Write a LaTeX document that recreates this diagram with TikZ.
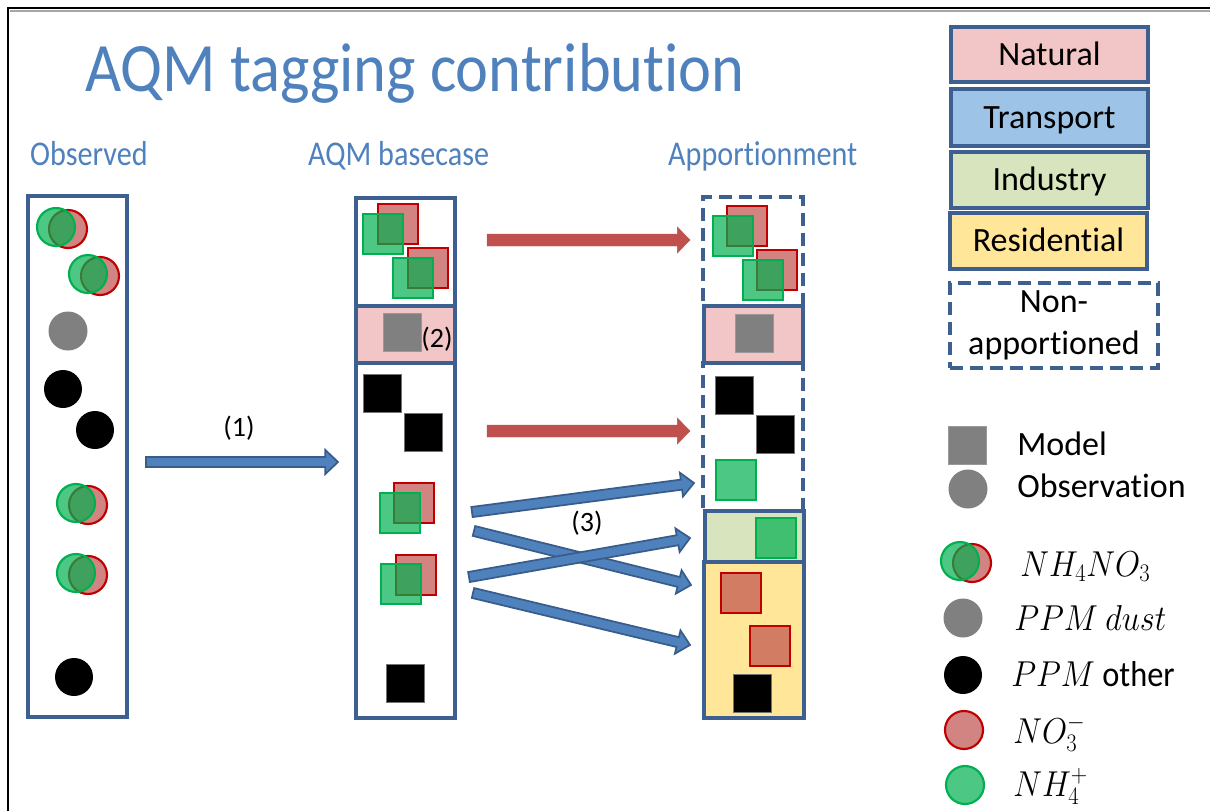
\RequirePackage{fix-cm}
\documentclass[tikz,border=0pt]{standalone}
\usepackage[no-math]{fontspec}
\setmainfont{Carlito}[Ligatures=NoCommon]
\usetikzlibrary{calc}
\definecolor{titleblue}{RGB}{79,129,189}
\definecolor{boxblue}{RGB}{62,96,145}
\definecolor{natural}{RGB}{242,198,198}
\definecolor{transport}{RGB}{157,195,230}
\definecolor{industry}{RGB}{215,228,189}
\definecolor{residential}{RGB}{255,230,153}
\definecolor{arrowred}{RGB}{192,80,77}
\definecolor{arrowblue}{RGB}{79,129,189}
\definecolor{arrowblueline}{RGB}{56,93,138}
\definecolor{greenc}{RGB}{0,176,80}
\definecolor{redfill}{RGB}{192,80,77}
\definecolor{redline}{RGB}{192,0,0}
\definecolor{dustgray}{RGB}{128,128,128}
\tikzset{
  colbox/.style={draw=boxblue, line width=2.8pt, inner sep=0pt, outer sep=0pt},
  dashbox/.style={colbox, dash pattern=on 10pt off 5pt},
  legbox/.style={colbox, font=\fontsize{25.5}{31.5}\selectfont, align=center},
  onelinebox/.style={legbox, text height=16.4pt, text depth=0pt},
  heading/.style={text=titleblue, font=\fontsize{26}{30}\selectfont, xscale=0.87, anchor=base west, inner sep=0pt},
  titlesty/.style={text=titleblue, font=\fontsize{52}{60}\selectfont, xscale=0.9, anchor=base west, inner sep=0pt},
  steplabel/.style={font=\fontsize{21}{25}\selectfont, inner sep=0pt},
  legtext/.style={font=\fontsize{25.5}{30}\selectfont, anchor=base west, inner sep=0pt},
  legmath/.style={font=\fontsize{27}{32}\selectfont, xscale=0.9, anchor=base west, inner sep=0pt},
  redp/.style={fill=redfill, fill opacity=0.7, draw=redline, line width=1.6pt},
  greenp/.style={fill=greenc, fill opacity=0.7, draw=greenc, line width=1.6pt},
  blackp/.style={fill=black, draw=black!55, line width=0.4pt},
  grayp/.style={fill=dustgray, draw=dustgray!80, line width=0.4pt},
  redarrowsty/.style={fill=arrowred, draw=arrowred, line width=0.3pt, line join=miter},
  bluearrowsty/.style={fill=arrowblue, draw=arrowblueline, line width=1.3pt, line join=miter},
}
\newcommand\boxnode[7]{\node[#6, minimum width={(#4-#2)*0.75pt}, minimum height={(#5-#3)*0.75pt}] (#1) at ({(#2+#4)/2},{(#3+#5)/2}) {#7};}
\newcommand\blockarrow[6]{%
  \coordinate (ba-c) at ($(#3)!#6!(#2)$);
  \draw[#1] ($(#2)!#4!90:(#3)$) -- ($(ba-c)!#4!-90:(#2)$) -- ($(ba-c)!#5!-90:(#2)$) -- (#3)
     -- ($(ba-c)!#5!90:(#2)$) -- ($(ba-c)!#4!90:(#2)$) -- ($(#2)!#4!-90:(#3)$) -- cycle;}
\newcommand\redarrow[2]{\blockarrow{redarrowsty}{#1}{#2}{4.5pt}{9.8pt}{9.5pt}}
\newcommand\bluearrow[2]{\blockarrow{bluearrowsty}{#1}{#2}{3.8pt}{9pt}{9.5pt}}
\newcommand\ammon[2]{\draw[redp] ({#1+12},{#2+2}) circle[radius=19]; \draw[greenp] (#1,#2) circle[radius=19];}
\newcommand\rcirc[2]{\draw[redp] (#1,#2) circle[radius=19];}
\newcommand\gcirc[2]{\draw[greenp] (#1,#2) circle[radius=19];}
\newcommand\bcirc[2]{\fill[black] (#1,#2) circle[radius=19];}
\newcommand\dcirc[2]{\fill[dustgray] (#1,#2) circle[radius=19.5];}
\newcommand\rsq[2]{\draw[redp] (#1,#2) rectangle ++(40,40);}
\newcommand\gsq[2]{\draw[greenp] (#1,#2) rectangle ++(40,40);}
\newcommand\bsq[2]{\draw[blackp] (#1,#2) rectangle ++(38,38);}
\newcommand\dsq[2]{\draw[grayp] (#1,#2) rectangle ++(38,38);}
\begin{document}
\begin{tikzpicture}[x=0.75pt, y=-0.75pt]
\useasboundingbox (0,0) rectangle (1210,811);
\fill[white] (0,0) rectangle (1210,811);
% frame
\draw[black!35, line width=1pt] (10,11) -- (1210,11);
\draw[black, line width=1.5pt] (8,811) -- (8,8) -- (1210,8);

% title and headings
\node[titlesty] (title) at (85,91) {AQM tagging contribution};
\node[heading] (hobs) at (30,165) {Observed};
\node[heading] (hbase) at (308,165) {AQM basecase};
\node[heading] (happ) at (668,165) {Apportionment};

% ---------- Observed column ----------
\boxnode{obs}{28}{196}{127}{717}{colbox, fill=white}{}
\ammon{56}{227}
\ammon{88}{274}
\dcirc{68}{331}
\bcirc{63}{389}
\bcirc{95}{430}
\ammon{76}{503}
\ammon{76}{573}
\bcirc{74}{677}

% ---------- AQM basecase column ----------
\boxnode{base}{356}{198}{455}{718}{colbox, fill=white}{}
\boxnode{basenat}{356}{306}{455}{363}{colbox, fill=natural}{}
\rsq{378}{204} \gsq{363}{214}
\rsq{408}{248} \gsq{393}{258}
\dsq{383}{313}
\node[steplabel] (lab2) at (437,339) {(2)};
\bsq{363}{374}
\bsq{404}{413}
\rsq{394}{483} \gsq{380}{493}
\rsq{396}{555} \gsq{381}{564}
\bsq{386}{664}

% ---------- Apportionment column ----------
\boxnode{appnon1}{703}{197}{803}{306}{dashbox}{}
\boxnode{appnon2}{703}{363}{803}{511}{dashbox}{}
\boxnode{appnat}{704}{306}{803}{363}{colbox, fill=natural}{}
\boxnode{appind}{705}{511}{804}{562}{colbox, fill=industry}{}
\boxnode{appres}{704}{562}{804}{718}{colbox, fill=residential}{}
\rsq{727}{206} \gsq{713}{216}
\rsq{757}{250} \gsq{743}{260}
\dsq{735}{314}
\bsq{715}{376}
\bsq{756}{415}
\gsq{716}{460}
\gsq{756}{518}
\rsq{721}{573}
\rsq{750}{626}
\bsq{733}{674}

% ---------- arrows ----------
\coordinate (a1s) at (146,462); \coordinate (a1e) at (338,462);
\coordinate (r1s) at (487,240); \coordinate (r1e) at (690,240);
\coordinate (r2s) at (487,431); \coordinate (r2e) at (690,431);
\coordinate (b3as) at (472,512); \coordinate (b3ae) at (694,483);
\coordinate (b3bs) at (474,531); \coordinate (b3be) at (691,585);
\coordinate (b3cs) at (469,577); \coordinate (b3ce) at (690,538);
\coordinate (b3ds) at (473,593); \coordinate (b3de) at (690,645);
\bluearrow{a1s}{a1e}
\node[steplabel] (lab1) at (239,428) {(1)};
\redarrow{r1s}{r1e}
\redarrow{r2s}{r2e}
\bluearrow{b3as}{b3ae}
\bluearrow{b3bs}{b3be}
\bluearrow{b3cs}{b3ce}
\bluearrow{b3ds}{b3de}
\node[steplabel] (lab3) at (587,523) {(3)};

% ---------- legend ----------
\boxnode{lnat}{951}{27}{1148}{82}{onelinebox, fill=natural}{Natural}
\boxnode{ltra}{951}{89}{1148}{146}{onelinebox, fill=transport}{Transport}
\boxnode{lind}{951}{152}{1148}{208}{onelinebox, fill=industry}{Industry}
\boxnode{lres}{950}{213}{1147}{269}{onelinebox, fill=residential}{Residential}
\boxnode{lnon}{950}{283}{1158}{368}{legbox, dash pattern=on 10pt off 5pt}{Non-\\apportioned}

\dsq{948}{426}
\node[legtext] (lmodel) at (1017,455) {Model};
\dcirc{968}{489}
\node[legtext] (lobs) at (1017,497) {Observation};
\ammon{960}{561}
\node[legmath] (lnh4no3) at (1020,576) {$NH_4NO_3$};
\dcirc{963}{618}
\node[legmath] (ldust) at (1014,630) {$PPM\ dust$};
\bcirc{963}{675}
\node[legmath] (lother) at (1011,686) {$PPM$ other};
\rcirc{964}{730}
\node[legmath] (lno3) at (1013,743) {$NO_3^-$};
\gcirc{965}{785}
\node[legmath] (lnh4) at (1013,796) {$NH_4^+$};
\end{tikzpicture}
\end{document}
